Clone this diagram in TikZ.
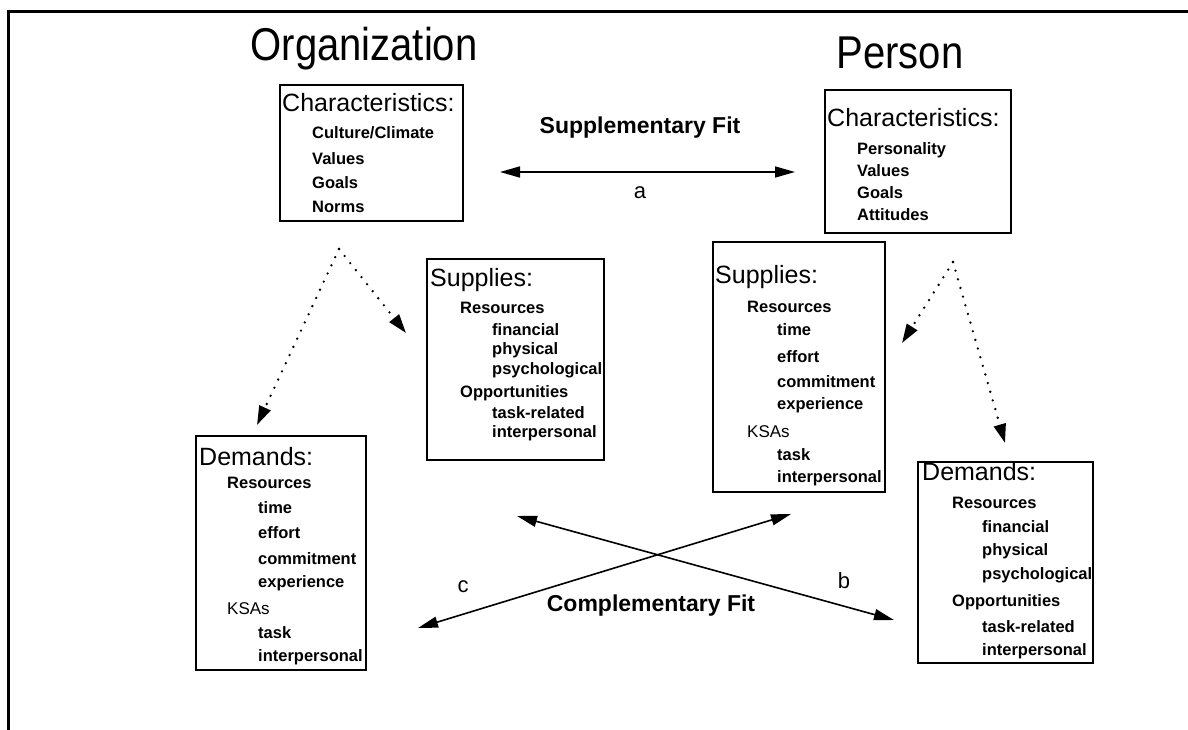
\documentclass[tikz,border=0pt]{standalone}
\usepackage{fontspec}
\setmainfont{Liberation Sans}
\usetikzlibrary{arrows.meta}

\tikzset{
  box/.style={draw,line width=1.5pt,inner sep=0pt},
  head/.style={anchor=west,inner sep=0pt,font=\fontsize{25}{25}\selectfont},
  itm/.style={anchor=west,inner sep=0pt,font=\fontsize{16.5}{16.5}\selectfont\bfseries},
  kitm/.style={anchor=west,inner sep=0pt,font=\fontsize{17}{17}\selectfont},
  fitlbl/.style={font=\fontsize{23}{23}\selectfont\bfseries},
  ltr/.style={font=\fontsize{22}{22}\selectfont},
  ttl/.style={font=\fontsize{46}{46}\selectfont},
  fit arrow/.style={line width=1.6pt,
    {Triangle[length=20pt,width=11pt]}-{Triangle[length=20pt,width=11pt]}},
  dot arrow/.style={line width=2.6pt,line cap=round,dash pattern=on 0pt off 9pt,
    -{Triangle[length=19pt,width=12pt]}},
}

\begin{document}
\begin{tikzpicture}[x=1pt,y=-1pt]
  \useasboundingbox (0,0) rectangle (1188,730);
  \draw[line width=3pt] (8,730)--(8,12)--(1188,12);

  % titles
  \node[ttl] (org) at (364,49) {\scalebox{0.87}[1]{Organization}};
  \node[ttl] (per) at (900,53) {\scalebox{0.87}[1]{Person}};

  % characteristics
  \node[box,minimum width=183pt,minimum height=136pt] (ochar) at (371.5,153) {};
  \node[head] (ocharh) at (282,103) {Characteristics:};
  \node[itm] (oc1) at (312,133) {Culture/Climate};
  \foreach \t/\y [count=\i from 2] in {Values/159,Goals/183,Norms/207}
    \node[itm] (oc\i) at (312,\y) {\t};

  \node[box,minimum width=186pt,minimum height=143pt] (pchar) at (918,161.5) {};
  \node[head] (pcharh) at (827,118) {Characteristics:};
  \foreach \t/\y [count=\i] in {Personality/150,Values/171,Goals/193,Attitudes/215}
    \node[itm] (pc\i) at (857,\y) {\t};

  % supplies
  \node[box,minimum width=177pt,minimum height=201pt] (osup) at (515.5,359.5) {};
  \node[head] (osuph) at (430,280) {Supplies:};
  \foreach \t/\x/\y [count=\i] in {Resources/460/308,financial/492/330,
      physical/492/350,psychological/492/370,Opportunities/460/393,
      task-related/492/413,interpersonal/492/433}
    \node[itm] (os\i) at (\x,\y) {\t};

  \node[box,minimum width=172pt,minimum height=250pt] (psup) at (799,367) {};
  \node[head] (psuph) at (715,277) {Supplies:};
  \node[kitm] (psk) at (747,432) {KSAs};
  \foreach \t/\x/\y [count=\i] in {Resources/747/307,time/777/330,effort/777/357,
      commitment/777/382,experience/777/405,task/777/455,interpersonal/777/478}
    \node[itm] (ps\i) at (\x,\y) {\t};

  % demands
  \node[box,minimum width=170pt,minimum height=234pt] (odem) at (281,553) {};
  \node[head] (odemh) at (199,457) {Demands:};
  \node[kitm] (odk) at (227,609) {KSAs};
  \foreach \t/\x/\y [count=\i] in {Resources/227/483,time/258/508,effort/258/533,
      commitment/258/559,experience/258/583,task/258/633,interpersonal/258/657}
    \node[itm] (od\i) at (\x,\y) {\t};

  \node[box,minimum width=175pt,minimum height=201pt] (pdem) at (1005.5,562.5) {};
  \node[head] (pdemh) at (922,472) {Demands:};
  \foreach \t/\x/\y [count=\i] in {Resources/952/503,financial/982/527,
      physical/982/551,psychological/982/575,Opportunities/952/602,
      task-related/982/627,interpersonal/982/651}
    \node[itm] (pd\i) at (\x,\y) {\t};

  % supplementary fit
  \coordinate (sfl) at (500,172);
  \coordinate (sfr) at (795,172);
  \draw[fit arrow] (sfl)--(sfr);
  \node[fitlbl] (sfit) at (640,128) {Supplementary Fit};
  \node[ltr] (la) at (640,193) {a};

  % complementary fit
  \coordinate (ba) at (517,516);
  \coordinate (bb) at (894,620);
  \coordinate (ca) at (418,628);
  \coordinate (cb) at (791,514);
  \draw[fit arrow] (ba)--(bb);
  \draw[fit arrow] (ca)--(cb);
  \node[fitlbl] (cfit) at (651,606) {Complementary Fit};
  \node[ltr] (lb) at (844,581) {b};
  \node[ltr] (lc) at (463,587) {c};

  % dotted
  \coordinate (oapex) at (339,249);
  \coordinate (otl) at (257,425);
  \coordinate (otr) at (406,333);
  \coordinate (papex) at (953,262);
  \coordinate (ptl) at (902,343);
  \coordinate (ptr) at (1005,443);
  \draw[dot arrow] (oapex)--(otl);
  \draw[dot arrow] (oapex)--(otr);
  \draw[dot arrow] (papex)--(ptl);
  \draw[dot arrow] (papex)--(ptr);
\end{tikzpicture}
\end{document}
